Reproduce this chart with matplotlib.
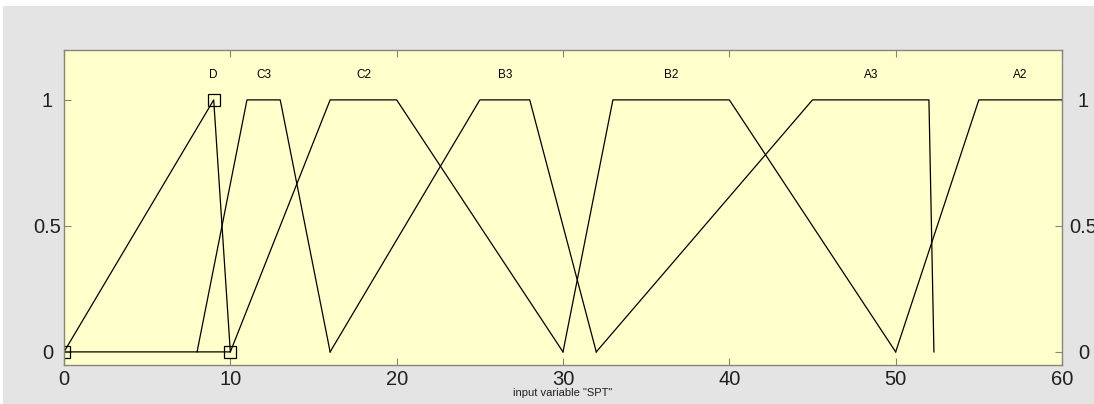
import matplotlib
matplotlib.use("Agg")
import matplotlib.pyplot as plt
from matplotlib.patches import Rectangle

# membership functions of input variable "SPT"
mf_names = ["D", "C3", "C2", "B3", "B2", "A3", "A2"]
mf_types = ["trimf", "trapmf", "trapmf", "trapmf", "trapmf", "trapmf", "trapmf"]
mf_params = [
    [0, 9, 10],
    [8, 11, 13, 16],
    [10, 16, 20, 30],
    [16, 25, 28, 32],
    [30, 33, 40, 50],
    [32, 45, 52, 52.3],
    [50, 55, 60, 65],
]
selected = "D"
x_range = [0, 60]
x_ticks = [0, 10, 20, 30, 40, 50, 60]
y_ticks = [0, 0.5, 1]
y_ticklabels = ["0", "0.5", "1"]
var_label = 'input variable "SPT"'

W, H = 1094, 404
fig = plt.figure(figsize=(W / 100, H / 100), dpi=100, facecolor="#e4e4e4")
# white strip along the top / left of the screenshot
fig.patches.append(Rectangle((0, 1 - 6 / H), 1, 6 / H, transform=fig.transFigure,
                             facecolor="white", edgecolor="none", zorder=-1))
fig.patches.append(Rectangle((0, 0), 3 / W, 1, transform=fig.transFigure,
                             facecolor="white", edgecolor="none", zorder=-1))

ax = fig.add_axes([64 / W, 1 - 365 / H, (1062 - 64) / W, (365 - 50) / H])
ax.set_facecolor("#ffffcc")

for name, kind, p in zip(mf_names, mf_types, mf_params):
    if kind == "trimf":
        xs = [p[0], p[1], p[2]]
        ys = [0, 1, 0]
        mid = p[1]
    else:
        xs = [p[0], p[1], p[2], p[3]]
        ys = [0, 1, 1, 0]
        mid = (p[1] + p[2]) / 2
    if name == selected:
        # selected MF is drawn closed, with square handles on its vertices
        xs = xs + [xs[0]]
        ys = ys + [0]
        ax.plot(xs[:-1], ys[:-1], ls="none", marker="s", ms=9, mfc="none",
                mec="black", mew=0.9)
    ax.plot(xs, ys, color="black", lw=0.9)
    ax.text(mid, 1.1, name, ha="center", va="center", fontsize=8.5,
            family="Liberation Sans")

ax.set_xlim(x_range)
ax.set_ylim(-0.052, 1.198)
ax.set_xticks(x_ticks)
ax.set_yticks(y_ticks)
ax.set_yticklabels(y_ticklabels)
for s in ax.spines.values():
    s.set_color("#85857a")
    s.set_linewidth(1.0)

ax.tick_params(axis="x", direction="in", length=5, width=0.8, color="#85857a",
               top=True, pad=3.5, labelsize=14.5)
ax.tick_params(axis="y", direction="in", length=5, width=0.8, color="#85857a",
               right=False, pad=12, labelsize=14.5)
for t in ax.get_xticklabels() + ax.get_yticklabels():
    t.set_family("Liberation Sans")
    t.set_color("#202020")
for t in ax.get_yticklabels():
    t.set_ha("center")

ax2 = ax.twinx()
ax2.set_ylim(ax.get_ylim())
ax2.set_yticks(y_ticks)
ax2.set_yticklabels(y_ticklabels)
ax2.tick_params(axis="y", direction="in", length=5, width=0.8, color="#85857a",
                pad=15.5, labelsize=14.5)
for t in ax2.get_yticklabels():
    t.set_family("Liberation Sans")
    t.set_color("#202020")
    t.set_ha("center")
for s in ax2.spines.values():
    s.set_visible(False)

pos = ax.get_position()
fig.text(pos.x0 + pos.width / 2, 1 - 393 / H, var_label,
         ha="center", va="center", fontsize=8, family="Liberation Sans",
         color="#202020")

fig.savefig("out.png", dpi=100, facecolor=fig.get_facecolor())
